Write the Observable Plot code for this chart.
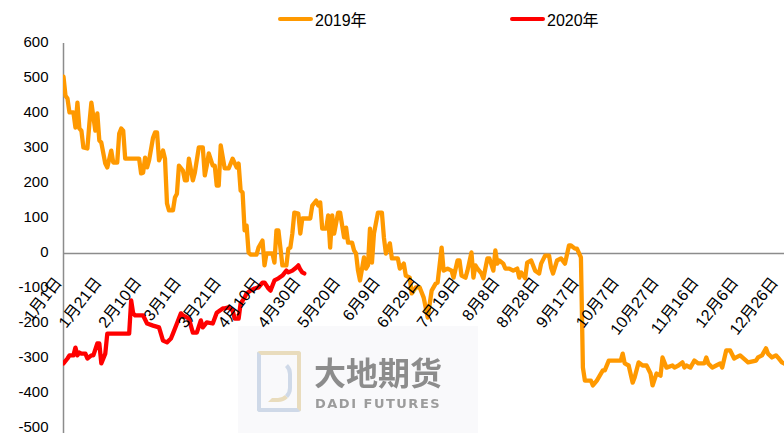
<!DOCTYPE html>
<html>
<head>
<meta charset="utf-8">
<script src="https://cdn.jsdelivr.net/npm/d3@7"></script>
<script src="https://cdn.jsdelivr.net/npm/@observablehq/plot@0.6"></script>
<style>
  html, body { margin: 0; padding: 0; background: #fff; }
  body { width: 784px; height: 433px; overflow: hidden; position: relative;
         font-family: "Liberation Sans", "Noto Sans CJK SC", sans-serif; }
  #legend { position: relative; height: 34px; }
  .item { position: absolute; top: 9px; height: 20px; display: flex; align-items: center; font-size: 16px; color: #000; white-space: nowrap; }
  .sw { width: 35px; height: 4.5px; border-radius: 2.5px; margin-right: 2px; }
  #chart { position: relative; z-index: 2; }
  #chart svg { overflow: visible; background: transparent; }
  #wm { position: absolute; left: 238px; top: 326px; width: 240px; height: 110px; background: #f9f9fb; z-index: 1; }
  #wm .icon { position: absolute; left: 19px; top: 25px; width: 36px; height: 53px; border: 4px solid;
              border-color: #e9dcbd #e9dcbd #cfd9e8 #cfd9e8; border-radius: 3px; filter: blur(0.6px); }
  #wm .icon2 { position: absolute; left: 30px; top: 34px; width: 16px; height: 34px; border: 4px solid;
              border-color: transparent #cfd9e8 #e9dcbd transparent; border-radius: 0 14px 14px 0; filter: blur(0.6px); }
  #wm .cn { position: absolute; left: 76px; top: 28px; line-height: 34px; font-family: "Noto Sans CJK SC", sans-serif; font-weight: 700;
            font-size: 32px; color: #8c8c8c; filter: blur(0.6px); white-space: nowrap; }
  #wm .en { position: absolute; left: 77px; top: 71px; line-height: 13px; font-family: "DejaVu Sans", sans-serif; font-weight: 700;
            font-size: 13px; color: #9c9c9c; letter-spacing: 1.5px; filter: blur(0.5px); white-space: nowrap; }
</style>
</head>
<body>
<div id="wm"><div class="icon"></div><div class="icon2"></div><div class="cn">大地期货</div><div class="en">DADI FUTURES</div></div>
<div id="legend"></div>
<div id="chart"></div>
<script>
// ---- data (day index counted from 1月1日) ----
const days2019 = [0,1,2,3,5,6,7,8,9,10,12,13,14,16,17,18,19,21,22,24,25,27,28,29,30,31,38,39,40,41,42,43,45,46,47,48,50,51,52,53,55,56,57,58,60,61,62,63,65,66,68,70,71,72,73,75,76,77,78,79,81,83,85,87,88,89,90,91,92,93,94,97,98,100,101,102,105,106,107,108,110,112,113,114,115,116,118,119,120,124,125,127,128,129,130,132,133,134,135,136,138,139,141,142,143,145,146,147,148,149,151,152,153,154,155,156,158,160,161,162,164,165,168,169,171,172,174,175,177,179,181,183,185,187,188,190,191,193,195,196,198,199,200,202,203,205,206,207,208,210,211,213,214,216,217,218,219,221,222,224,226,228,229,230,232,233,235,237,239,240,242,244,245,246,248,250,252,254,255,257,258,260,261,262,265,266,268,271,272,274,280,281,282,284,286,287,289,291,293,295,296,298,300,301,303,306,307,309,311,312,313,315,317,319,322,323,324,326,328,330,331,333,335,337,338,340,343,344,348,349,351,353,354,356,358,359,361,362,364];
const values2019 = [505,451,443,403,403,360,431,357,351,303,300,371,431,351,400,323,317,257,246,294,260,260,343,357,351,271,271,229,231,274,246,266,331,346,346,266,294,271,143,123,123,160,171,251,237,209,209,271,209,231,303,303,223,251,286,251,251,194,194,309,243,243,271,246,257,180,174,66,80,3,-3,-3,17,37,-34,0,0,-26,66,66,-34,-34,14,17,57,117,114,57,100,100,137,151,137,146,71,71,109,17,109,57,117,117,46,74,31,31,9,0,-49,-77,-11,-43,-34,71,-26,57,117,117,46,0,29,-14,-14,-43,-29,-63,-69,-114,-97,-97,-126,-183,-106,-86,-83,17,-49,-43,-49,-69,-20,-20,-63,-69,-49,3,-69,-34,-43,-57,-71,-14,-14,-49,9,-29,-20,-29,-43,-43,-49,-43,-69,-54,-71,-26,-20,-49,-57,-29,-6,-6,-40,-57,-20,-14,-29,23,23,14,14,-11,-326,-363,-363,-377,-363,-334,-334,-306,-306,-286,-314,-320,-369,-354,-311,-320,-320,-343,-377,-343,-349,-297,-326,-320,-326,-320,-311,-326,-320,-326,-306,-314,-314,-297,-314,-326,-320,-314,-326,-277,-277,-300,-297,-291,-306,-311,-306,-297,-291,-271,-286,-297,-291,-297,-311,-314,-318];
const days2020 = [0,2,3,5,6,7,8,9,11,12,14,15,17,18,19,21,22,31,33,34,35,36,40,42,45,48,50,52,54,55,57,59,60,63,65,67,69,70,72,75,77,80,81,83,85,86,88,89,91,92,94,96,98,100,101,103,104,106,108,110,112,113,115,117,118,119,120,121];
const values2020 = [-314,-300,-291,-291,-269,-291,-283,-286,-286,-300,-291,-291,-257,-257,-314,-286,-229,-229,-229,-134,-171,-177,-177,-200,-206,-211,-249,-254,-243,-229,-200,-171,-177,-186,-226,-226,-191,-211,-197,-200,-169,-157,-157,-154,-163,-186,-186,-143,-126,-114,-106,-100,-97,-83,-83,-100,-106,-77,-71,-63,-49,-54,-49,-40,-34,-46,-54,-57];
const tickLabels = ["1月1日","1月21日","2月10日","3月1日","3月21日","4月10日","4月30日","5月20日","6月9日","6月29日","7月19日","8月8日","8月28日","9月17日","10月7日","10月27日","11月16日","12月6日","12月26日"];
const yTicks = [600,500,400,300,200,100,0,-100,-200,-300,-400,-500];
const seriesNames = ["2019年","2020年"];
const seriesColors = ["#FF9900","#FF0000"];

if (days2019.length !== values2019.length || days2020.length !== values2020.length) {
  throw new Error("length mismatch " + days2019.length + "/" + values2019.length + " " + days2020.length + "/" + values2020.length);
}

const day0 = Date.UTC(2020, 0, 1);
const toDate = d => new Date(day0 + d * 864e5);
const data2019 = days2019.map((d, i) => ({date: toDate(d), value: values2019[i]}));
const data2020 = days2020.map((d, i) => ({date: toDate(d), value: values2020[i]}));
const tickDates = tickLabels.map(s => {
  const [m, d] = s.match(/\d+/g).map(Number);
  return new Date(Date.UTC(2020, m - 1, d));
});

// legend
const legend = document.getElementById("legend");
const legendLeft = [278, 510];
seriesNames.forEach((name, i) => {
  const it = document.createElement("div");
  it.className = "item";
  it.style.left = legendLeft[i] + "px";
  it.innerHTML = `<span class="sw" style="background:${seriesColors[i]}"></span><span>${name}</span>`;
  legend.appendChild(it);
});

const font = '"Liberation Sans", "Noto Sans CJK SC", sans-serif';
const chart = Plot.plot({
  width: 784,
  height: 399,
  marginLeft: 63,
  marginRight: 0,
  marginTop: 9,
  marginBottom: 5,
  style: {background: "transparent", fontFamily: font, fontSize: "15px", color: "#000", overflow: "visible"},
  x: {type: "utc", domain: [toDate(0), toDate(362.3)], axis: null},
  y: {domain: [-500, 600], range: [394, 9], axis: null},
  marks: [
    Plot.ruleY([0], {stroke: "#8c8c8c", strokeWidth: 1.5}),
    Plot.ruleX([toDate(0)], {y1: 600, y2: -530, stroke: "#8c8c8c", strokeWidth: 1.5}),
    Plot.text(yTicks, {y: d => d, text: d => String(d), frameAnchor: "left", textAnchor: "end", dx: -15, dy: -1, fontSize: 15, fill: "#000"}),
    Plot.line(data2019, {x: "date", y: "value", stroke: seriesColors[0], strokeWidth: 4.3, strokeLinejoin: "round", clip: true}),
    Plot.line(data2020, {x: "date", y: "value", stroke: seriesColors[1], strokeWidth: 4.3, strokeLinejoin: "round", clip: true}),
    Plot.text(tickDates, {x: d => d, y: () => 0, text: (d, i) => tickLabels[i], rotate: -52, textAnchor: "end", lineAnchor: "middle", dx: -5, dy: 26, fontSize: 16, fill: "#000"})
  ]
});
document.getElementById("chart").appendChild(chart);
</script>
</body>
</html>
